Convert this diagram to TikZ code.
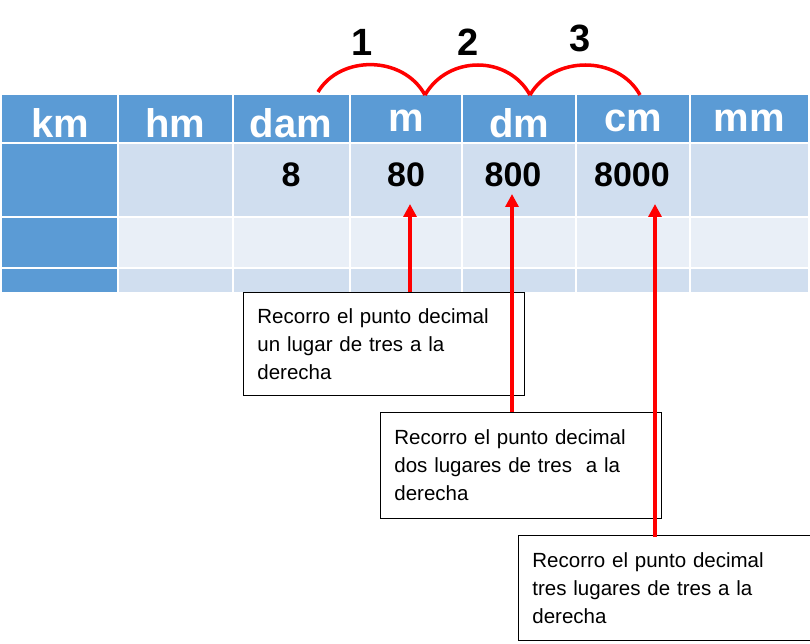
\documentclass[tikz,border=0pt]{standalone}
\usepackage{fontspec}
\setmainfont{Liberation Sans}
\usetikzlibrary{arrows.meta}
\definecolor{hblue}{HTML}{5B9BD5}
\definecolor{rowa}{HTML}{D0DEEF}
\definecolor{rowb}{HTML}{E9EFF7}
\tikzset{hd/.style={text=white,font=\fontsize{40}{44}\selectfont\bfseries},
val/.style={font=\fontsize{34}{38}\selectfont\bfseries},
note/.style={draw,line width=0.8pt,fill=white,align=left,anchor=north west,inner sep=0pt,font=\fontsize{20.5}{28}\selectfont},
redarr/.style={draw=red,line width=3.5pt,-{Triangle[length=13pt,width=13pt]}},
arc/.style={draw=red,line width=3.5pt}}
\begin{document}
\begin{tikzpicture}[x=1pt,y=-1pt]
\useasboundingbox (0,0) rectangle (810,644);
\def\xs{{2,118,233,350,462,576,690,808}}
\foreach \i in {0,...,6}{
 \pgfmathsetmacro\a{\xs[\i]}\pgfmathsetmacro\b{\xs[\i+1]}
 \fill[hblue] (\a,95) rectangle (\b,143);
 \ifnum\i=0
  \fill[hblue] (\a,143) rectangle (\b,292);
 \else
  \fill[rowa] (\a,143) rectangle (\b,217);
  \fill[rowb] (\a,217) rectangle (\b,268);
  \fill[rowa] (\a,268) rectangle (\b,292);
 \fi}
\foreach \i in {1,...,6}{\pgfmathsetmacro\a{\xs[\i]}\draw[white,line width=2pt] (\a,95) -- (\a,292);}
\draw[white,line width=2pt] (2,143) -- (808,143) (2,217) -- (808,217) (2,268) -- (808,268);
\node[hd] (km) at (60,123) {km};
\node[hd] (hm) at (175,123) {hm};
\node[hd] (dam) at (291,123) {dam};
\node[hd] (m) at (406,121) {m};
\node[hd] (dm) at (519,123) {dm};
\node[hd] (cm) at (633,121) {cm};
\node[hd] (mm) at (749,121) {mm};
\node[val] (v1) at (291,175) {8};
\node[val] (v2) at (406,175) {80};
\node[val] (v3) at (513,175) {800};
\node[val] (v4) at (632,175) {8000};
\coordinate (p0) at (318,92);\coordinate (p1) at (425,95);\coordinate (p2) at (530,95);\coordinate (p3) at (640,95);
\draw[arc] (p0) .. controls (340,55) and (403,55) .. (p1);
\draw[arc] (p1) .. controls (448,55) and (508,55) .. (p2);
\draw[arc] (p2) .. controls (553,55) and (618,55) .. (p3);
\node[font=\fontsize{38}{40}\selectfont\bfseries] (n1) at (362,42) {1};
\node[font=\fontsize{38}{40}\selectfont\bfseries] (n2) at (468,42) {2};
\node[font=\fontsize{38}{40}\selectfont\bfseries] (n3) at (580,38) {3};
\node[note,minimum width=267pt,minimum height=103pt,text width=253pt,inner xsep=14pt,inner ysep=6pt,anchor=north west] (b1) at (243,292) {Recorro el punto decimal\\un lugar de tres a la\\derecha};
\node[note,minimum width=267pt,minimum height=106pt,text width=253pt,inner xsep=14pt,inner ysep=6pt] (b2) at (380,412) {Recorro el punto decimal\\dos lugares de tres\ \ a la\\derecha};
\node[note,minimum width=287pt,minimum height=105pt,text width=273pt,inner xsep=14pt,inner ysep=6pt] (b3) at (518,535) {Recorro el punto decimal\\tres lugares de tres a la\\derecha};
\coordinate (t1) at (410,204);\coordinate (t2) at (512,194);\coordinate (t3) at (655,204);
\draw[redarr] (410,292) -- (t1);
\draw[redarr] (512,412) -- (t2);
\draw[redarr] (655,537) -- (t3);
\end{tikzpicture}
\end{document}
